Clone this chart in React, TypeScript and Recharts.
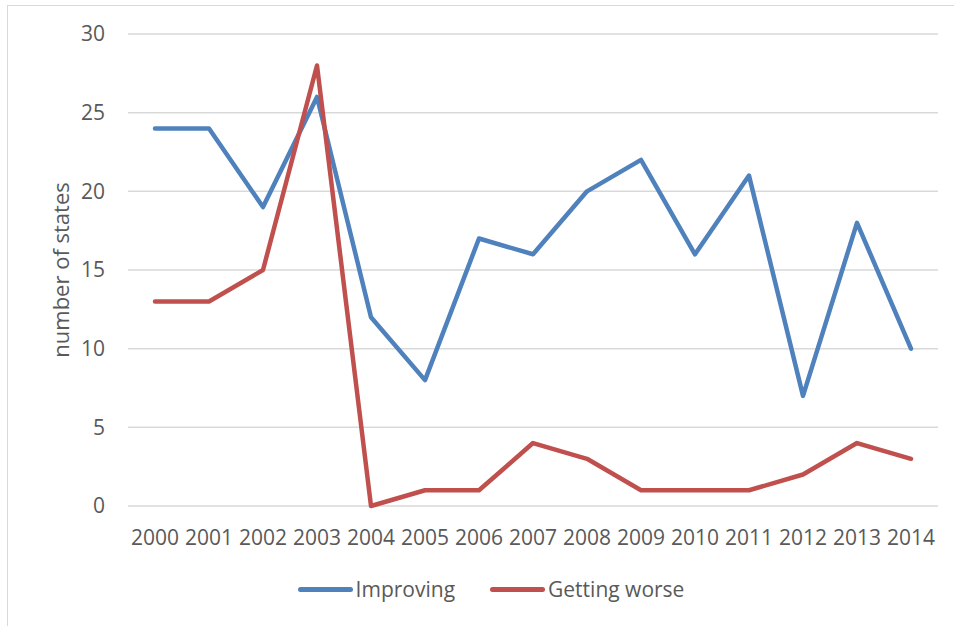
import React from 'react';
import {
  LineChart,
  Line,
  XAxis,
  YAxis,
  CartesianGrid,
  Legend,
} from 'recharts';

const years = ['2000', '2001', '2002', '2003', '2004', '2005', '2006', '2007', '2008', '2009', '2010', '2011', '2012', '2013', '2014'];
const improving = [24, 24, 19, 26, 12, 8, 17, 16, 20, 22, 16, 21, 7, 18, 10];
const gettingWorse = [13, 13, 15, 28, 0, 1, 1, 4, 3, 1, 1, 1, 2, 4, 3];
const yTicks = [0, 5, 10, 15, 20, 25, 30];

const data = years.map((year, i) => ({
  year,
  improving: improving[i],
  worse: gettingWorse[i],
}));

const FONT = '"Open Sans", sans-serif';
const TEXT = '#595959';

const seriesInfo = [
  { name: 'Improving', color: '#4f81bd' },
  { name: 'Getting worse', color: '#c0504d' },
];

const LegendContent = () => (
  <div style={{ display: 'flex', justifyContent: 'center', fontFamily: FONT, fontSize: 21, color: TEXT }}>
    {seriesInfo.map((s, i) => (
      <div key={s.name} style={{ display: 'flex', alignItems: 'center', marginLeft: i ? 35 : 0 }}>
        <div style={{ width: 55, height: 5, borderRadius: 3, background: s.color, marginRight: 3 }} />
        <span>{s.name}</span>
      </div>
    ))}
  </div>
);

const YLabel = (props: any) => {
  const vb = props.viewBox || {};
  const cx = vb.x + 12;
  const cy = vb.y + vb.height / 2;
  return (
    <text
      x={cx}
      y={cy}
      transform={`rotate(-90, ${cx}, ${cy})`}
      textAnchor="middle"
      dominantBaseline="central"
      fill={TEXT}
      fontSize={22}
      fontFamily={FONT}
    >
      number of states
    </text>
  );
};

const App: React.FC = () => {
  return (
    <div style={{ position: 'absolute', left: 0, top: 0, width: 954, height: 626, background: '#fff' }}>
      <div
        style={{
          position: 'absolute',
          left: 7,
          top: 5,
          width: 960,
          height: 640,
          borderLeft: '1.5px solid #d9d9d9',
          borderTop: '1.5px solid #d9d9d9',
        }}
      />
      <LineChart
        width={954}
        height={626}
        data={data}
        margin={{ top: 34, right: 16, left: 48, bottom: 52 }}
      >
        <CartesianGrid vertical={false} stroke="#d9d9d9" strokeWidth={1.5} />
        <XAxis
          dataKey="year"
          axisLine={false}
          tickLine={false}
          padding={{ left: 27, right: 27 }}
          interval={0}
          tickMargin={18}
          height={40}
          tick={{ fill: TEXT, fontSize: 21, fontFamily: FONT }}
        />
        <YAxis
          domain={[0, 30]}
          ticks={yTicks}
          width={80}
          axisLine={false}
          tickLine={false}
          tickMargin={17}
          tick={{ fill: TEXT, fontSize: 21, fontFamily: FONT }}
          label={<YLabel />}
        />
        <Legend
          content={<LegendContent />}
          wrapperStyle={{ position: 'absolute', left: 14, top: 575, width: 954 }}
        />
        <Line
          dataKey="improving"
          name="Improving"
          stroke="#4f81bd"
          strokeWidth={4.5}
          strokeLinecap="round"
          strokeLinejoin="round"
          dot={false}
          isAnimationActive={false}
        />
        <Line
          dataKey="worse"
          name="Getting worse"
          stroke="#c0504d"
          strokeWidth={4.5}
          strokeLinecap="round"
          strokeLinejoin="round"
          dot={false}
          isAnimationActive={false}
        />
      </LineChart>
    </div>
  );
};

export default App;
